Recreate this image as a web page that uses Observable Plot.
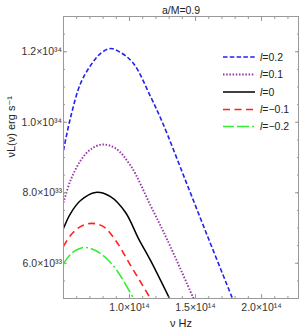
<!DOCTYPE html>
<html><head><meta charset="utf-8">
<script src="https://cdn.jsdelivr.net/npm/d3@7"></script>
<script src="https://cdn.jsdelivr.net/npm/@observablehq/plot@0.6"></script>
<style>
body{margin:0;background:#fff;}
#wrap{position:relative;width:300px;height:332px;font-family:"Liberation Sans",Arial,"DejaVu Sans",sans-serif;}
#legend{position:absolute;left:0;top:0;}
</style></head><body><div id="wrap"></div>
<script>
// units: nu in 1e14 Hz, L in 1e33 erg/s
const seriesLabels = ["0.2", "0.1", "0", "−0.1", "−0.2"];
const seriesColors = ["#2222ee", "#9933aa", "#000000", "#ff2020", "#33ee33"];
const seriesDash = ["4.5,2.3", "1.5,1.7", null, "7,4.5", "11,3,12,3,2,3"];
const seriesWidth = [1.6, 1.9, 1.5, 1.6, 1.6];

const nuA = [0.5, 0.553, 0.629, 0.705, 0.780, 0.856, 0.932, 1.030, 1.159, 1.25, 1.424, 1.598, 1.780];
const LA  = [9.20, 10.13, 11.10, 11.61, 11.95, 12.09, 11.98, 11.67, 10.73, 9.99, 8.35, 6.70, 5.0];
const nuB = [0.5, 0.553, 0.629, 0.705, 0.795, 0.894, 1.008, 1.159, 1.288, 1.485];
const LB  = [7.72, 8.35, 8.91, 9.23, 9.37, 9.26, 8.77, 7.64, 6.65, 5.0];
const nuC = [0.5, 0.553, 0.629, 0.742, 0.856, 0.970, 1.068, 1.159, 1.303];
const LC  = [6.99, 7.41, 7.78, 8.01, 7.89, 7.44, 6.70, 6.08, 5.0];
const nuD = [0.5, 0.553, 0.629, 0.712, 0.803, 0.894, 1.008, 1.159];
const LD  = [6.48, 6.79, 7.04, 7.13, 7.04, 6.65, 5.94, 5.0];
const nuE = [0.5, 0.553, 0.606, 0.667, 0.780, 0.894, 1.030];
const LE  = [5.99, 6.25, 6.39, 6.45, 6.28, 5.85, 5.0];

const xMajor = [1.0, 1.5, 2.0];
const xMajorLabels = ["1.0×10¹⁴", "1.5×10¹⁴", "2.0×10¹⁴"];
const yMajor = [6, 8, 10, 12];
const yMajorLabels = ["6.0×10³³", "8.0×10³³", "1.0×10³⁴", "1.2×10³⁴"];
const xMinor = d3.range(5, 23).map(d => d / 10);
const yMinor = d3.range(10, 27).map(d => d / 2);

const nuSets = [nuA, nuB, nuC, nuD, nuE];
const LSets = [LA, LB, LC, LD, LE];
const series = nuSets.map((nu, i) => nu.map((v, j) => ({nu: v * 1e14, L: LSets[i][j] * 1e33})));

const X = d => d * 1e14, Y = d => d * 1e33;
const grey = "#999";
const fmtX = d => xMajorLabels[xMajor.findIndex(v => Math.abs(X(v) - d) < 1)];
const fmtY = d => yMajorLabels[yMajor.findIndex(v => Math.abs(Y(v) - d) < 1e20)];
const font = '"Liberation Sans", Arial, "DejaVu Sans", sans-serif';

const lineMarks = series.map((data, i) => Plot.line(data, {
  x: "nu", y: "L", curve: "catmull-rom",
  stroke: seriesColors[i], strokeWidth: seriesWidth[i], strokeLinecap: "butt",
  strokeDasharray: seriesDash[i] ?? undefined, clip: true
}));

const plot = Plot.plot({
  width: 300, height: 332,
  marginLeft: 63, marginRight: 2, marginTop: 16, marginBottom: 34,
  style: {fontFamily: font, fontSize: "10.5px", background: "#fff"},
  x: {domain: [0.5e14, 2.28e14]},
  y: {domain: [5e33, 1.3e34]},
  marks: [
    ...lineMarks,
    Plot.frame({stroke: grey}),
    Plot.axisX(xMinor.map(X), {anchor: "bottom", tickSize: -2, tickFormat: () => "", stroke: grey, label: null}),
    Plot.axisX(xMajor.map(X), {anchor: "bottom", tickSize: -4, tickPadding: 9, tickFormat: fmtX, stroke: grey, fill: "#333", label: null}),
    Plot.axisX(xMinor.map(X), {anchor: "top", tickSize: -2, tickFormat: () => "", stroke: grey, label: null}),
    Plot.axisX(xMajor.map(X), {anchor: "top", tickSize: -4, tickFormat: () => "", stroke: grey, label: null}),
    Plot.axisY(yMinor.map(Y), {anchor: "left", tickSize: -2, tickFormat: () => "", stroke: grey, label: null}),
    Plot.axisY(yMajor.map(Y), {anchor: "left", tickSize: -4, tickPadding: 5.5, tickFormat: fmtY, stroke: grey, fill: "#333", label: null}),
    Plot.axisY(yMinor.map(Y), {anchor: "right", tickSize: -2, tickFormat: () => "", stroke: grey, label: null}),
    Plot.axisY(yMajor.map(Y), {anchor: "right", tickSize: -4, tickFormat: () => "", stroke: grey, label: null}),
    Plot.text(["a/M=0.9"], {frameAnchor: "top", dy: -9.5, fill: "#222", fontSize: 10.5}),
    Plot.text(["ν Hz"], {frameAnchor: "bottom", dy: 28, fill: "#222", fontSize: 11}),
    Plot.text(["νL(ν) erg s⁻¹"], {frameAnchor: "left", dx: -52, rotate: -90, fill: "#222", fontSize: 11})
  ]
});
const wrap = document.getElementById("wrap");
wrap.appendChild(plot);

// legend
const legendY = [57, 74.5, 92, 109.5, 126.5];
const lg = d3.select(wrap).append("svg").attr("id", "legend").attr("width", 300).attr("height", 332);
seriesLabels.forEach((lab, i) => {
  lg.append("line").attr("x1", 223).attr("x2", 255).attr("y1", legendY[i]).attr("y2", legendY[i])
    .attr("stroke", seriesColors[i]).attr("stroke-width", seriesWidth[i])
    .attr("stroke-dasharray", seriesDash[i]);
  const t = lg.append("text").attr("x", 260).attr("y", legendY[i]).attr("dy", "0.35em")
    .attr("font-size", 10.5).attr("fill", "#222")
    .style("font-family", font);
  t.append("tspan").attr("font-style", "italic").text("l");
  t.append("tspan").text("=" + lab);
});
</script></body></html>
